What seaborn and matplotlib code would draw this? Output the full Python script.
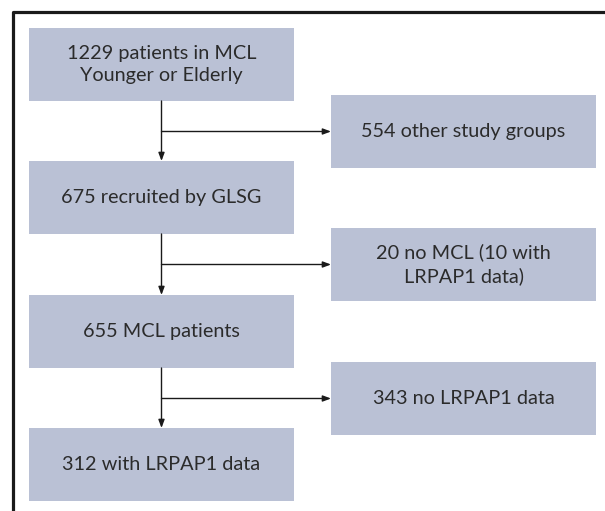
import matplotlib
matplotlib.use("Agg")
import matplotlib.pyplot as plt
import seaborn as sns
from matplotlib.patches import Rectangle

# flow chart content
main_steps = ["1229 patients in MCL\nYounger or Elderly",
              "675 recruited by GLSG",
              "655 MCL patients",
              "312 with LRPAP1 data"]
excluded = ["554 other study groups",
            "20 no MCL (10 with\nLRPAP1 data)",
            "343 no LRPAP1 data"]

sns.set_theme(style="white")
plt.rcParams["font.family"] = ["Lato", "DejaVu Sans"]

box_color = "#bac1d5"
text_color = "#2b2b2b"

fig = plt.figure(figsize=(6.05, 5.11), dpi=100)
ax = fig.add_axes([0, 0, 1, 1])
ax.set_xlim(0, 605)
ax.set_ylim(511, 0)
ax.axis("off")

# outer frame (open at right and bottom)
ax.plot([13, 13, 606], [512, 12, 12], color="#1a1a1a", lw=2.3, solid_capstyle="butt")

left_x, right_x, box_w, box_h = 29, 331, 265, 73
left_tops = [28, 161, 295, 428]
right_tops = [95, 228, 362]
fs = 14.3

for top, label in zip(left_tops, main_steps):
    ax.add_patch(Rectangle((left_x, top), box_w, box_h, color=box_color, lw=0))
    ax.text(left_x + box_w / 2, top + box_h / 2, label, ha="center", va="center",
            fontsize=fs, color=text_color, linespacing=1.4)

for top, label in zip(right_tops, excluded):
    ax.add_patch(Rectangle((right_x, top), box_w, box_h, color=box_color, lw=0))
    ax.text(right_x + box_w / 2, top + box_h / 2, label, ha="center", va="center",
            fontsize=fs, color=text_color, linespacing=1.4)

cx = left_x + box_w / 2
arrow = dict(arrowstyle="-|>,head_length=0.4,head_width=0.15", color="#1a1a1a", lw=1,
             shrinkA=0, shrinkB=0)
for i in range(3):
    y0 = left_tops[i] + box_h
    y1 = left_tops[i + 1]
    ax.annotate("", xy=(cx, y1), xytext=(cx, y0), arrowprops=arrow)
    yb = right_tops[i] + box_h / 2
    ax.annotate("", xy=(right_x, yb), xytext=(cx, yb), arrowprops=arrow)

fig.savefig("out.png", dpi=100)
